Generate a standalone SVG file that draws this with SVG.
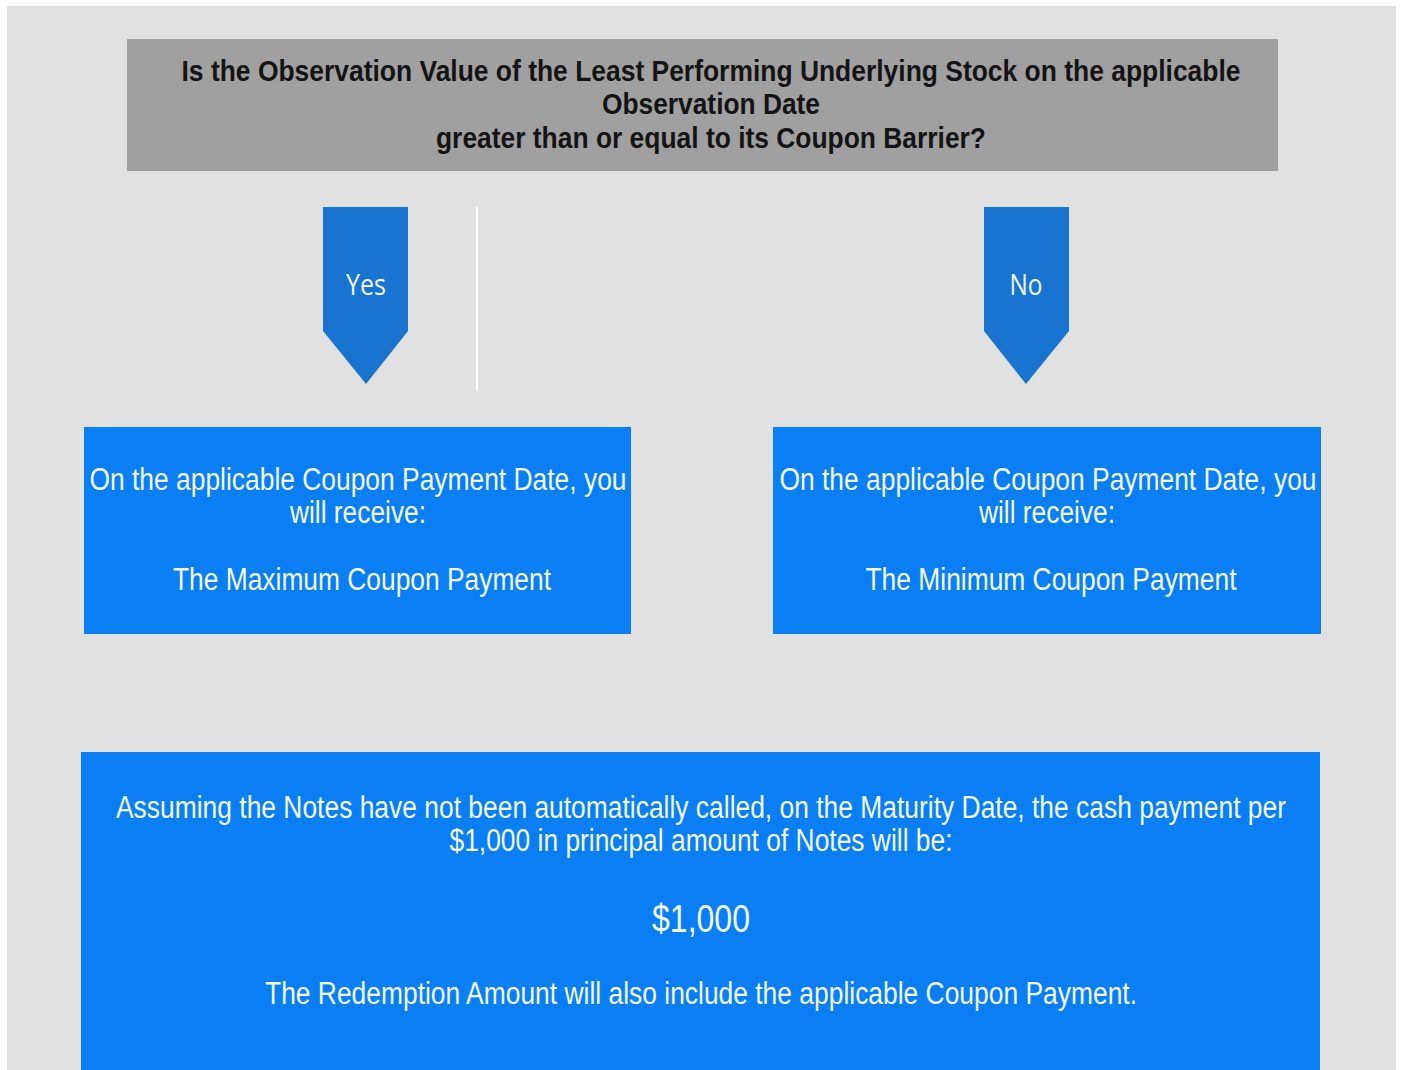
<svg xmlns="http://www.w3.org/2000/svg" width="1401" height="1070" viewBox="0 0 1401 1070">
<style>
.q{font-family:"Liberation Sans Narrow","Liberation Sans",Arial,sans-serif;font-weight:bold;font-size:29px;fill:#141414;text-anchor:middle}
.b{font-family:"Liberation Sans Narrow","Liberation Sans",Arial,sans-serif;font-size:31px;fill:#f2f9ff;text-anchor:middle}
.a{font-family:"Open Sans","Noto Sans",sans-serif;font-size:30px;fill:#eef6ff;text-anchor:middle}
.box{fill:#0a7ff4}
.arrow{fill:#1874cf}
</style>
<rect x="0" y="0" width="1401" height="1070" fill="#ffffff"/>
<rect x="7" y="6" width="1389" height="1064" fill="#e1e1e1"/>
<g id="question">
<rect x="127" y="39" width="1151" height="132" fill="#a0a0a0"/>
<text class="q" x="711" y="81" textLength="1059" lengthAdjust="spacingAndGlyphs">Is the Observation Value of the Least Performing Underlying Stock on the applicable</text>
<text class="q" x="711" y="114" textLength="218" lengthAdjust="spacingAndGlyphs">Observation Date</text>
<text class="q" x="711" y="148" textLength="550" lengthAdjust="spacingAndGlyphs">greater than or equal to its Coupon Barrier?</text>
</g>
<g id="connectors">
<g id="yes-arrow">
<polygon class="arrow" points="323,207 408,207 408,331 366,384 323,331"/>
<text class="a" x="366" y="295" textLength="40" lengthAdjust="spacingAndGlyphs">Yes</text>
</g>
<line x1="477" y1="207" x2="477" y2="391" stroke="#ffffff" stroke-width="2"/>
<g id="no-arrow">
<polygon class="arrow" points="984,207 1069,207 1069,331 1026,384 984,331"/>
<text class="a" x="1026" y="295" textLength="33" lengthAdjust="spacingAndGlyphs">No</text>
</g>
</g>
<g id="yes-box">
<rect class="box" x="84" y="427" width="547" height="207"/>
<text class="b" x="358" y="490" textLength="537" lengthAdjust="spacingAndGlyphs">On the applicable Coupon Payment Date, you</text>
<text class="b" x="358" y="523" textLength="136" lengthAdjust="spacingAndGlyphs">will receive:</text>
<text class="b" x="362" y="590" textLength="378" lengthAdjust="spacingAndGlyphs">The Maximum Coupon Payment</text>
</g>
<g id="no-box">
<rect class="box" x="773" y="427" width="548" height="207"/>
<text class="b" x="1048" y="490" textLength="537" lengthAdjust="spacingAndGlyphs">On the applicable Coupon Payment Date, you</text>
<text class="b" x="1047" y="523" textLength="136" lengthAdjust="spacingAndGlyphs">will receive:</text>
<text class="b" x="1051" y="590" textLength="371" lengthAdjust="spacingAndGlyphs">The Minimum Coupon Payment</text>
</g>
<g id="maturity-box">
<rect class="box" x="81" y="752" width="1239" height="318"/>
<text class="b" x="701" y="818" textLength="1170" lengthAdjust="spacingAndGlyphs">Assuming the Notes have not been automatically called, on the Maturity Date, the cash payment per</text>
<text class="b" x="701" y="851" textLength="503" lengthAdjust="spacingAndGlyphs">$1,000 in principal amount of Notes will be:</text>
<text class="b" x="701" y="932" style="font-size:39px" textLength="98" lengthAdjust="spacingAndGlyphs">$1,000</text>
<text class="b" x="701" y="1004" textLength="872" lengthAdjust="spacingAndGlyphs">The Redemption Amount will also include the applicable Coupon Payment.</text>
</g>
</svg>
